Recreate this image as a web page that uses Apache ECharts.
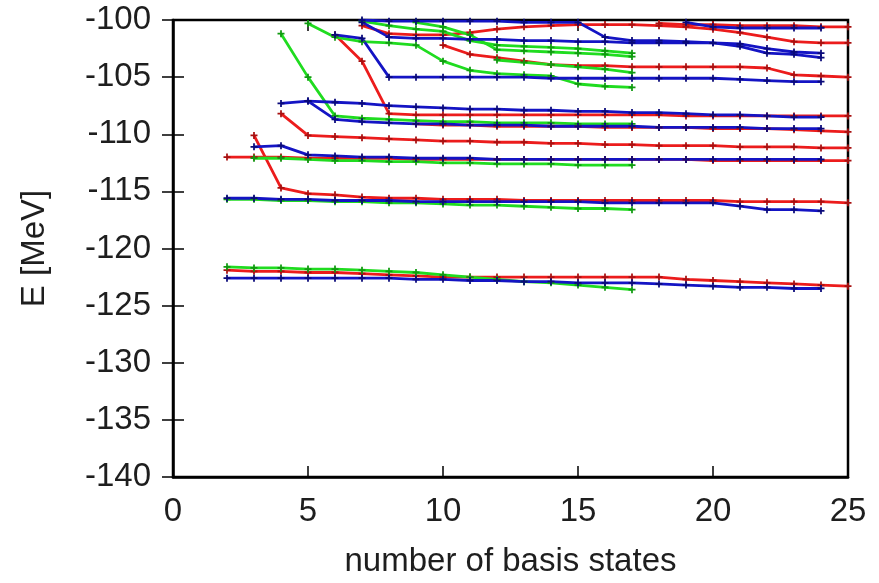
<!DOCTYPE html>
<html>
<head>
<meta charset="utf-8">
<script src="https://cdn.jsdelivr.net/npm/echarts@6/dist/echarts.min.js"></script>
<style>
  html, body { margin: 0; padding: 0; background: #ffffff; }
  #chart { width: 879px; height: 583px; }
</style>
</head>
<body>
<div id="chart"></div>
<script>
// Energy levels (MeV) versus number of basis states, one array per level.
// Each entry: [number of basis states, energy]
const redLevels = [
  [[2,-121.9],[3,-122.0],[4,-122.0],[5,-122.1],[6,-122.1],[7,-122.2],[8,-122.3],[9,-122.4],[10,-122.5],[11,-122.5],[12,-122.5],[13,-122.5],[14,-122.5],[15,-122.5],[16,-122.5],[17,-122.5],[18,-122.5],[19,-122.7],[20,-122.8],[21,-122.9],[22,-123.0],[23,-123.1],[24,-123.2],[25,-123.3]],
  [[3,-110.1],[4,-114.7],[5,-115.2],[6,-115.3],[7,-115.5],[8,-115.6],[9,-115.6],[10,-115.7],[11,-115.7],[12,-115.7],[13,-115.8],[14,-115.8],[15,-115.8],[16,-115.8],[17,-115.8],[18,-115.8],[19,-115.8],[20,-115.8],[21,-115.9],[22,-115.9],[23,-115.9],[24,-115.9],[25,-116.0]],
  [[2,-112.0],[3,-112.0],[4,-112.0],[5,-112.1],[6,-112.1],[7,-112.1],[8,-112.1],[9,-112.2],[10,-112.2],[11,-112.2],[12,-112.2],[13,-112.2],[14,-112.2],[15,-112.2],[16,-112.2],[17,-112.2],[18,-112.2],[19,-112.2],[20,-112.3],[21,-112.3],[22,-112.3],[23,-112.3],[24,-112.3],[25,-112.3]],
  [[4,-108.2],[5,-110.1],[6,-110.2],[7,-110.3],[8,-110.4],[9,-110.5],[10,-110.6],[11,-110.6],[12,-110.7],[13,-110.7],[14,-110.8],[15,-110.8],[16,-110.9],[17,-110.9],[18,-111.0],[19,-111.0],[20,-111.0],[21,-111.1],[22,-111.1],[23,-111.1],[24,-111.2],[25,-111.2]],
  [[6,-101.3],[7,-103.6],[8,-108.2],[9,-108.3],[10,-108.3],[11,-108.3],[12,-108.3],[13,-108.3],[14,-108.3],[15,-108.3],[16,-108.3],[17,-108.3],[18,-108.3],[19,-108.4],[20,-108.4],[21,-108.4],[22,-108.4],[23,-108.4],[24,-108.4],[25,-108.4]],
  [[9,-109.1],[10,-109.2],[11,-109.2],[12,-109.3],[13,-109.3],[14,-109.3],[15,-109.3],[16,-109.4],[17,-109.4],[18,-109.4],[19,-109.4],[20,-109.5],[21,-109.5],[22,-109.5],[23,-109.6],[24,-109.7],[25,-109.8]],
  [[10,-102.2],[11,-103.0],[12,-103.3],[13,-103.6],[14,-103.9],[15,-104.0],[16,-104.0],[17,-104.1],[18,-104.1],[19,-104.1],[20,-104.1],[21,-104.1],[22,-104.2],[23,-104.8],[24,-104.9],[25,-105.0]],
  [[7,-100.5],[8,-101.2],[9,-101.3],[10,-101.3],[11,-101.1],[12,-100.8],[13,-100.6],[14,-100.5],[15,-100.4],[16,-100.4],[17,-100.4],[18,-100.5],[19,-100.6],[20,-100.8],[21,-101.1],[22,-101.5],[23,-101.9],[24,-102.0],[25,-102.0]],
  [[18,-100.3],[19,-100.4],[20,-100.4],[21,-100.5],[22,-100.5],[23,-100.5],[24,-100.6],[25,-100.6]]
];

const greenLevels = [
  [[2,-121.6],[3,-121.7],[4,-121.7],[5,-121.8],[6,-121.8],[7,-121.9],[8,-122.0],[9,-122.1],[10,-122.3],[11,-122.5],[12,-122.7],[13,-122.9],[14,-123.0],[15,-123.2],[16,-123.4],[17,-123.6]],
  [[2,-115.7],[3,-115.7],[4,-115.8],[5,-115.8],[6,-115.9],[7,-115.9],[8,-116.0],[9,-116.0],[10,-116.1],[11,-116.2],[12,-116.2],[13,-116.3],[14,-116.4],[15,-116.5],[16,-116.5],[17,-116.6]],
  [[3,-112.1],[4,-112.1],[5,-112.2],[6,-112.3],[7,-112.3],[8,-112.4],[9,-112.4],[10,-112.5],[11,-112.5],[12,-112.6],[13,-112.6],[14,-112.6],[15,-112.7],[16,-112.7],[17,-112.7]],
  [[4,-101.2],[5,-105.0],[6,-108.4],[7,-108.6],[8,-108.7],[9,-108.8],[10,-108.9],[11,-108.9],[12,-109.0],[13,-109.0],[14,-109.0],[15,-109.1],[16,-109.1],[17,-109.1]],
  [[5,-100.3],[6,-101.5],[7,-101.9],[8,-102.0],[9,-102.2],[10,-103.6],[11,-104.4],[12,-104.7],[13,-104.8],[14,-104.9],[15,-105.6],[16,-105.8],[17,-105.9]],
  [[7,-100.1],[8,-100.5],[9,-100.8],[10,-101.0],[11,-101.8],[12,-102.2],[13,-102.3],[14,-102.4],[15,-102.5],[16,-102.7],[17,-102.9]],
  [[9,-100.2],[10,-100.6],[11,-101.3],[12,-102.6],[13,-102.7],[14,-102.8],[15,-102.9],[16,-103.0],[17,-103.2]],
  [[12,-103.5],[13,-103.7],[14,-103.9],[15,-104.1],[16,-104.3],[17,-104.6]]
];

const blueLevels = [
  [[2,-122.6],[3,-122.6],[4,-122.6],[5,-122.6],[6,-122.6],[7,-122.6],[8,-122.6],[9,-122.7],[10,-122.7],[11,-122.8],[12,-122.8],[13,-122.9],[14,-122.9],[15,-123.0],[16,-123.0],[17,-123.0],[18,-123.1],[19,-123.2],[20,-123.3],[21,-123.4],[22,-123.4],[23,-123.5],[24,-123.5]],
  [[2,-115.6],[3,-115.6],[4,-115.7],[5,-115.7],[6,-115.8],[7,-115.8],[8,-115.8],[9,-115.9],[10,-115.9],[11,-115.9],[12,-115.9],[13,-115.9],[14,-115.9],[15,-115.9],[16,-116.0],[17,-116.0],[18,-116.0],[19,-116.0],[20,-116.0],[21,-116.3],[22,-116.6],[23,-116.6],[24,-116.7]],
  [[3,-111.1],[4,-111.0],[5,-111.8],[6,-111.9],[7,-112.0],[8,-112.0],[9,-112.1],[10,-112.1],[11,-112.1],[12,-112.2],[13,-112.2],[14,-112.2],[15,-112.2],[16,-112.2],[17,-112.2],[18,-112.2],[19,-112.2],[20,-112.2],[21,-112.2],[22,-112.2],[23,-112.2],[24,-112.2]],
  [[4,-107.3],[5,-107.1],[6,-107.2],[7,-107.3],[8,-107.5],[9,-107.6],[10,-107.7],[11,-107.8],[12,-107.8],[13,-107.9],[14,-107.9],[15,-108.0],[16,-108.0],[17,-108.1],[18,-108.1],[19,-108.2],[20,-108.3],[21,-108.3],[22,-108.4],[23,-108.5],[24,-108.5]],
  [[5,-107.1],[6,-108.7],[7,-108.9],[8,-109.0],[9,-109.1],[10,-109.1],[11,-109.2],[12,-109.2],[13,-109.2],[14,-109.3],[15,-109.3],[16,-109.3],[17,-109.3],[18,-109.4],[19,-109.4],[20,-109.4],[21,-109.4],[22,-109.5],[23,-109.5],[24,-109.5]],
  [[6,-101.3],[7,-101.6],[8,-105.0],[9,-105.0],[10,-105.0],[11,-105.0],[12,-105.0],[13,-105.0],[14,-105.1],[15,-105.1],[16,-105.1],[17,-105.1],[18,-105.1],[19,-105.1],[20,-105.1],[21,-105.2],[22,-105.3],[23,-105.4],[24,-105.4]],
  [[7,-100.2],[8,-101.5],[9,-101.6],[10,-101.6],[11,-101.7],[12,-101.7],[13,-101.8],[14,-101.8],[15,-101.9],[16,-101.9],[17,-102.0],[18,-102.0],[19,-102.0],[20,-102.0],[21,-102.1],[22,-102.5],[23,-102.8],[24,-102.9]],
  [[7,-100.0],[8,-100.1],[9,-100.1],[10,-100.1],[11,-100.1],[12,-100.1],[13,-100.2],[14,-100.2],[15,-100.2],[16,-101.5],[17,-101.8],[18,-101.8],[19,-101.9],[20,-102.0],[21,-102.3],[22,-102.9],[23,-103.0],[24,-103.3]],
  [[19,-100.2],[20,-100.6],[21,-100.7],[22,-100.7],[23,-100.7],[24,-100.7]]
];

const xTicks = { min: 0, max: 25, step: 5 };
const yTicks = { min: -140, max: -100, step: 5 };

// line colour and a darker shade for the point markers
const palette = {
  red:   { line: '#ec1c1c', mark: '#a81010' },
  green: { line: '#20dc20', mark: '#109a10' },
  blue:  { line: '#1414c4', mark: '#0a0a7a' }
};

// small "+" marker drawn at every computed point
const plusMark = 'path://M3,0H5V3H8V5H5V8H3V5H0V3H3Z';

function levelSeries(levels, colors, tag) {
  return levels.map((pts, i) => ({
    name: tag + '-' + i,
    type: 'line',
    data: pts,
    xAxisIndex: 0,
    yAxisIndex: 0,
    symbol: plusMark,
    symbolSize: 7,
    showSymbol: true,
    clip: true,
    lineStyle: { color: colors.line, width: 2.8 },
    itemStyle: { color: colors.mark },
    emphasis: { disabled: true }
  }));
}

const labelFont = { fontFamily: 'Liberation Sans, Arial, sans-serif', fontSize: 33, color: '#1e1e1e' };
const tickStyle = { show: true, inside: true, length: 11, lineStyle: { color: '#000', width: 1.5 } };

const chart = echarts.init(document.getElementById('chart'), null, { renderer: 'canvas' });
chart.setOption({
  animation: false,
  backgroundColor: '#ffffff',
  grid: { left: 173, right: 31, top: 20, bottom: 101, show: true, borderColor: '#000', borderWidth: 2.5, backgroundColor: 'transparent' },
  xAxis: [
    {
      type: 'value', min: xTicks.min, max: xTicks.max, interval: xTicks.step,
      position: 'bottom',
      name: 'number of basis states', nameLocation: 'middle', nameGap: 68,
      nameTextStyle: labelFont,
      axisLine: { show: true, lineStyle: { color: '#000', width: 2.5 } },
      axisTick: tickStyle,
      axisLabel: Object.assign({ margin: 18 }, labelFont),
      splitLine: { show: false }
    },
    {
      type: 'value', min: xTicks.min, max: xTicks.max, interval: xTicks.step,
      position: 'top',
      axisLine: { show: false },
      axisTick: tickStyle,
      axisLabel: { show: false },
      splitLine: { show: false }
    }
  ],
  yAxis: [
    {
      type: 'value', min: yTicks.min, max: yTicks.max, interval: yTicks.step,
      position: 'left',
      name: 'E [MeV]', nameLocation: 'middle', nameGap: 122,
      nameTextStyle: labelFont,
      axisLine: { show: true, lineStyle: { color: '#000', width: 2.5 } },
      axisTick: tickStyle,
      axisLabel: Object.assign({ margin: 22 }, labelFont),
      splitLine: { show: false }
    },
    {
      type: 'value', min: yTicks.min, max: yTicks.max, interval: yTicks.step,
      position: 'right',
      axisLine: { show: false },
      axisTick: tickStyle,
      axisLabel: { show: false },
      splitLine: { show: false }
    }
  ],
  series: [].concat(
    levelSeries(redLevels, palette.red, 'red'),
    levelSeries(greenLevels, palette.green, 'green'),
    levelSeries(blueLevels, palette.blue, 'blue')
  )
});
</script>
</body>
</html>
